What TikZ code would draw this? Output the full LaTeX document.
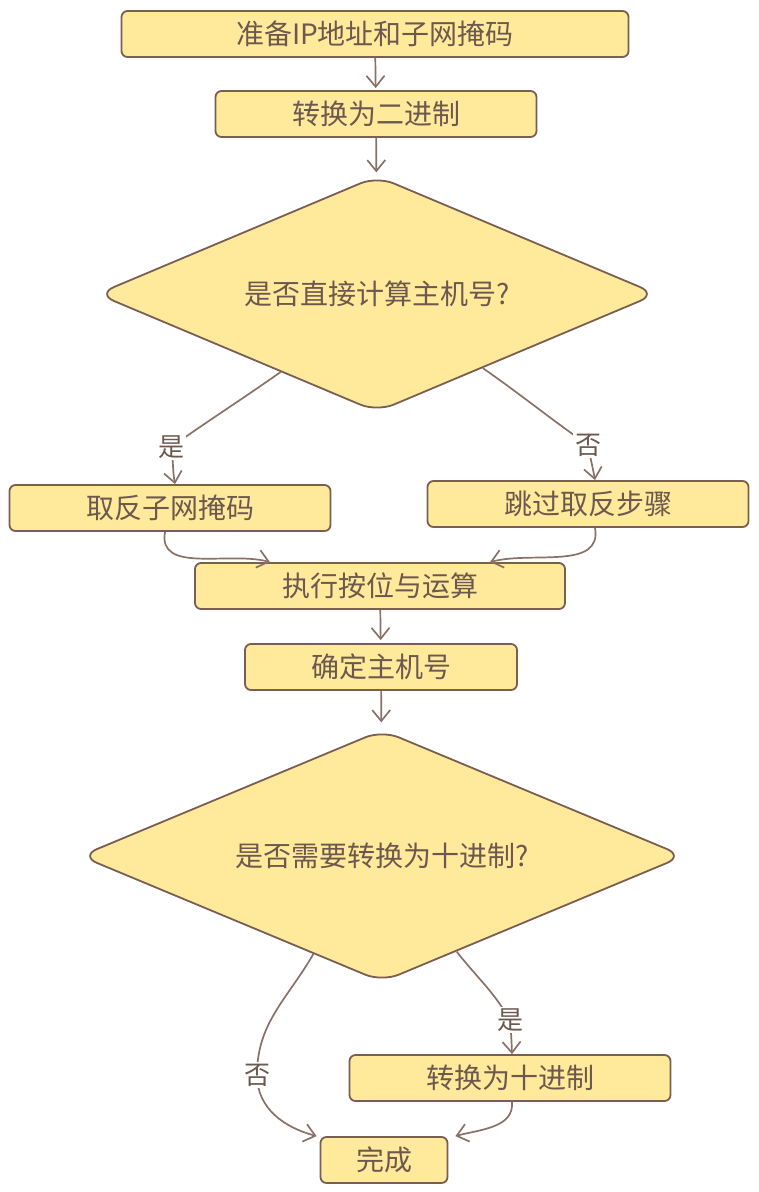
\documentclass[tikz,border=0pt]{standalone}
\usepackage{fontspec}
\newfontfamily\cjk{Noto Sans CJK SC}
\usetikzlibrary{shapes.geometric,arrows.meta}

\definecolor{boxfill}{RGB}{255,234,155}
\definecolor{boxline}{RGB}{122,94,82}
\definecolor{flowline}{RGB}{138,113,104}
\definecolor{labeltext}{RGB}{108,88,78}

\begin{document}
\begin{tikzpicture}[x=1pt,y=1pt,
    procbox/.style={draw=boxline, fill=boxfill, line width=1.8pt, rounded corners=6pt,
        minimum height=46pt, inner sep=0pt, text=labeltext, font=\cjk\fontsize{28}{32}\selectfont},
    decision/.style={diamond, aspect=2.4, draw=boxline, fill=boxfill, line width=1.8pt, rounded corners=18pt,
        inner sep=0pt, text=labeltext, font=\cjk\fontsize{28}{32}\selectfont},
    flow/.style={draw=flowline, line width=1.7pt, -{Straight Barb[length=11pt,width=18pt]}},
    branch/.style={fill=white, text=labeltext, inner sep=2pt, font=\cjk\fontsize{26}{30}\selectfont}]

% Canvas of the reference size
\useasboundingbox (0,0) rectangle (759,-1192);

% Main column of steps
\node[procbox, minimum width=507pt] (prep)  at (375,-34)  {准备IP地址和子网掩码};
\node[procbox, minimum width=321pt] (tobin) at (376,-114) {转换为二进制};
\node[decision, minimum width=560pt, minimum height=236pt] (direct) at (377,-294) {是否直接计算主机号?};

% Two branches of the first decision
\node[procbox, minimum width=321pt] (invert) at (170,-508) {取反子网掩码};
\node[procbox, minimum width=321pt] (skip)   at (588,-504) {跳过取反步骤};

% Merge and continue
\node[procbox, minimum width=370pt] (bitand) at (380,-586) {执行按位与运算};
\node[procbox, minimum width=272pt] (hostid) at (381,-667) {确定主机号};
\node[decision, minimum width=604pt, minimum height=252pt] (todec) at (382,-856) {是否需要转换为十进制?};
\node[procbox, minimum width=321pt] (dec)  at (510,-1078) {转换为十进制};
\node[procbox, minimum width=127pt] (done) at (384,-1160) {完成};

% Straight arrows
\draw[flow, shorten >=2pt] (prep) -- (tobin);
\draw[flow, shorten >=3pt] (tobin) -- (direct);
\draw[flow, shorten >=3pt] (bitand) -- (hostid);
\draw[flow, shorten >=7pt] (hostid) -- (todec);

% First decision: yes / no
\draw[flow] (direct.219) to[out=215,in=35] (171,-447) node[branch] {是}
    to[out=-80,in=100] ([xshift=5pt]invert.north);
\draw[flow] (direct.-35) to[out=-35,in=145] (588,-445) node[branch] {否}
    to[out=-80,in=100] ([xshift=7pt]skip.north);

% Both branches join at the AND step
\draw[flow] ([xshift=-5pt]invert.south) to[out=-100,in=165] ([xshift=-110pt]bitand.north);
\draw[flow] ([xshift=7pt]skip.south) to[out=-80,in=15] ([xshift=110pt]bitand.north);

% Second decision: no goes straight to the end, yes converts first
\draw[flow] (todec.235) to[out=240,in=90] (257,-1075) node[branch] {否}
    to[out=-90,in=165] ([xshift=-3pt]done.north west);
\draw[flow] (todec.-52) to[out=-52,in=120] (510,-1020) node[branch] {是}
    to[out=-85,in=92] ([xshift=2pt]dec.north);
\draw[flow] ([xshift=2pt]dec.south) to[out=-85,in=15] ([xshift=7pt]done.north east);

\end{tikzpicture}
\end{document}
